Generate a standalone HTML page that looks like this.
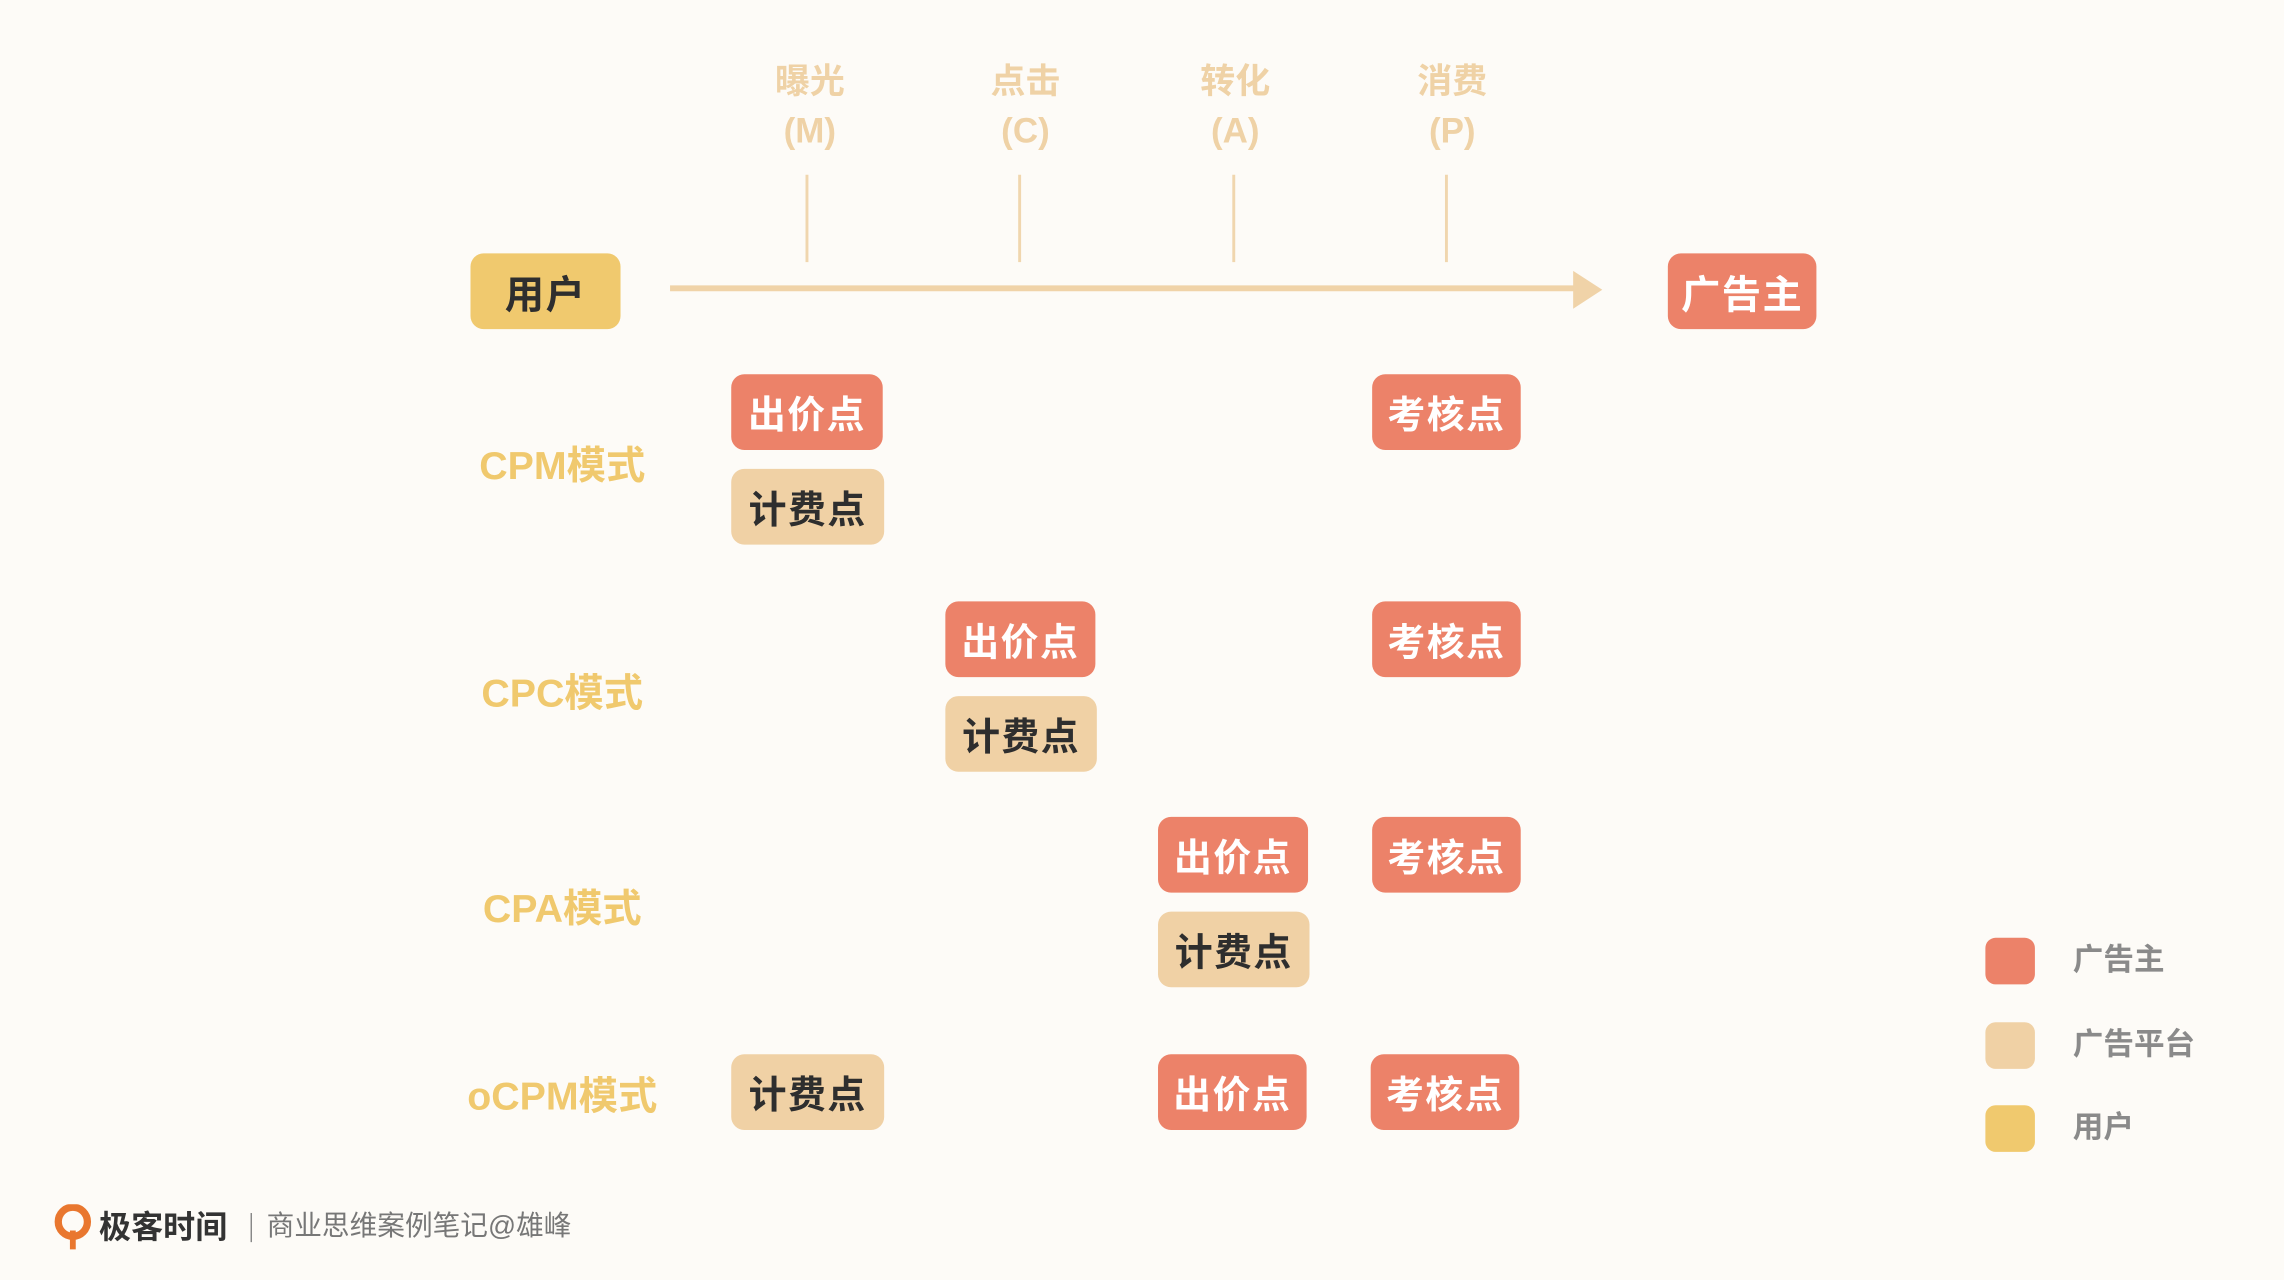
<!DOCTYPE html>
<html><head><meta charset="utf-8">
<style>
html,body{margin:0;padding:0;background:#fdfbf7;}
body{width:2284px;height:1280px;overflow:hidden;position:relative;}
#c{position:absolute;left:0;top:0;width:1568px;height:879px;transform-origin:0 0;transform:scale(1.45663,1.4562);font-family:"Liberation Sans","Noto Sans CJK SC",sans-serif;}
.h{position:absolute;width:80px;text-align:center;color:#efd2a6;font-weight:bold;font-size:24px;line-height:34px;}
.v{position:absolute;top:120px;width:2px;height:60px;background:#f0d6ae;}
.b{position:absolute;border-radius:9px;font-weight:bold;font-size:26px;display:flex;align-items:center;justify-content:center;letter-spacing:1px;}
.r{background:#ec8269;color:#fff;}
.t{background:#f0d1a5;color:#2e2e2e;}
.y{background:#f0c96e;color:#2e2e2e;}
.l{position:absolute;width:200px;text-align:center;color:#f0c96e;font-weight:bold;font-size:27px;line-height:30px;}
.lg{position:absolute;left:1363px;width:34px;height:32px;border-radius:7px;}
.lt{position:absolute;left:1423px;font-size:21px;color:#8a8a8a;line-height:24px;font-weight:bold;}
</style></head><body><div id="c">
<div class="h" style="left:516px;top:40px">曝光<br>(M)</div>
<div class="h" style="left:664px;top:40px">点击<br>(C)</div>
<div class="h" style="left:808px;top:40px">转化<br>(A)</div>
<div class="h" style="left:957px;top:40px">消费<br>(P)</div>
<div class="v" style="left:553px"></div>
<div class="v" style="left:699px"></div>
<div class="v" style="left:846px"></div>
<div class="v" style="left:992px"></div>
<svg style="position:absolute;left:0;top:0" width="1568" height="879">
<line x1="460" y1="198" x2="1092" y2="198" stroke="#f0d3a8" stroke-width="4"/>
<polygon points="1080,186 1100,199 1080,212" fill="#f0d3a8"/>
</svg>
<div class="b y" style="left:323px;top:174px;width:103px;height:52px;font-size:27px">用户</div>
<div class="b r" style="left:1145px;top:174px;width:102px;height:52px;font-size:27px">广告主</div>

<div class="l" style="left:286px;top:305px">CPM模式</div>
<div class="b r" style="left:502px;top:257px;width:104px;height:52px">出价点</div>
<div class="b t" style="left:502px;top:322px;width:105px;height:52px">计费点</div>
<div class="b r" style="left:942px;top:257px;width:102px;height:52px">考核点</div>

<div class="l" style="left:286px;top:461px">CPC模式</div>
<div class="b r" style="left:649px;top:413px;width:103px;height:52px">出价点</div>
<div class="b t" style="left:649px;top:478px;width:104px;height:52px">计费点</div>
<div class="b r" style="left:942px;top:413px;width:102px;height:52px">考核点</div>

<div class="l" style="left:286px;top:609px">CPA模式</div>
<div class="b r" style="left:795px;top:561px;width:103px;height:52px">出价点</div>
<div class="b t" style="left:795px;top:626px;width:104px;height:52px">计费点</div>
<div class="b r" style="left:942px;top:561px;width:102px;height:52px">考核点</div>

<div class="l" style="left:286px;top:738px">oCPM模式</div>
<div class="b t" style="left:502px;top:724px;width:105px;height:52px">计费点</div>
<div class="b r" style="left:795px;top:724px;width:102px;height:52px">出价点</div>
<div class="b r" style="left:941px;top:724px;width:102px;height:52px">考核点</div>

<div class="lg" style="top:644px;background:#ec8269"></div>
<div class="lg" style="top:702px;background:#f0d1a5"></div>
<div class="lg" style="top:759px;background:#f0c96e"></div>
<div class="lt" style="top:648px">广告主</div>
<div class="lt" style="top:706px">广告平台</div>
<div class="lt" style="top:763px">用户</div>

<svg style="position:absolute;left:37px;top:827px" width="28" height="32"><circle cx="13" cy="12" r="10" fill="none" stroke="#e9772f" stroke-width="5"/><path d="M13 18 L13 31" stroke="#e9772f" stroke-width="4"/></svg>
<div style="position:absolute;left:68px;top:829px;font-size:22px;font-weight:bold;color:#333;line-height:28px">极客时间</div>
<div style="position:absolute;left:172px;top:833px;width:1px;height:20px;background:#888"></div>
<div style="position:absolute;left:183px;top:831px;font-size:19px;color:#777;line-height:24px">商业思维案例笔记@雄峰</div>
</div></body></html>
